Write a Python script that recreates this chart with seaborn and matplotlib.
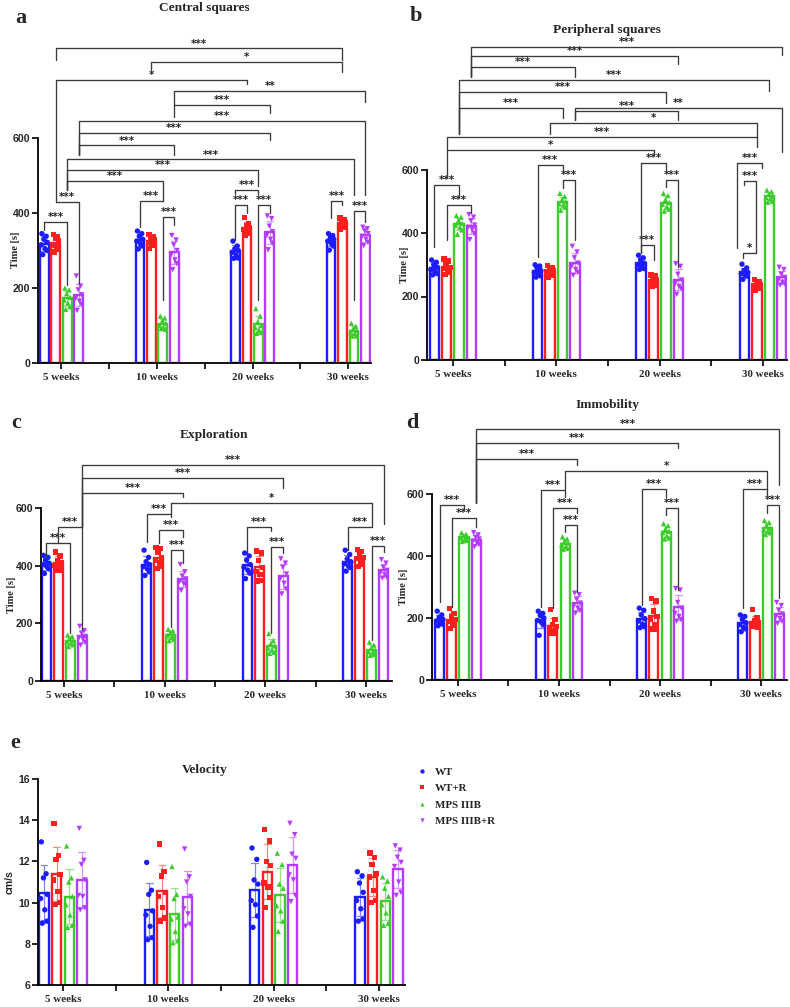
import numpy as np
import pandas as pd
import matplotlib
matplotlib.use("Agg")
from matplotlib import pyplot as plt
import seaborn as sns

weeks = ["5 weeks", "10 weeks", "20 weeks", "30 weeks"]
groups = ["WT", "WT+R", "MPS IIIB", "MPS IIIB+R"]
colors = ["#1c1cff", "#ff1f1f", "#3ccc2c", "#b43cff"]
markers = ["o", "s", "^", "v"]

# individual animals, one list per age (5, 10, 20, 30 weeks)
central_wt = [[345, 338, 330, 322, 315, 305, 300, 289], [352, 345, 338, 330, 325, 318, 312, 304],
              [325, 312, 305, 300, 295, 288, 280, 279], [345, 340, 335, 330, 325, 318, 312, 301]]
central_wtr = [[342, 338, 332, 325, 315, 310, 302, 296], [342, 338, 333, 328, 322, 318, 314, 305],
               [388, 372, 366, 362, 356, 350, 345, 341], [387, 382, 378, 374, 370, 366, 362, 357]]
central_mps = [[200, 195, 185, 175, 168, 160, 150, 143], [125, 120, 112, 106, 100, 95, 90, 92],
               [145, 125, 110, 100, 95, 88, 82, 79], [106, 98, 92, 87, 83, 78, 72, 72]]
central_mpsr = [[232, 205, 195, 182, 172, 165, 157, 140], [340, 328, 315, 300, 288, 275, 265, 249],
                [392, 385, 365, 350, 340, 330, 320, 302], [362, 358, 352, 345, 338, 330, 322, 313]]

periph_wt = [[315, 308, 300, 292, 285, 280, 272, 268], [300, 296, 290, 282, 276, 270, 265, 261],
             [330, 322, 315, 305, 300, 295, 288, 285], [302, 290, 282, 276, 272, 268, 264, 254]]
periph_wtr = [[318, 312, 302, 292, 288, 280, 275, 269], [298, 292, 288, 282, 278, 272, 268, 262],
              [268, 264, 258, 252, 248, 242, 236, 232], [253, 248, 242, 238, 234, 228, 225, 220]]
periph_mps = [[455, 450, 440, 430, 425, 418, 410, 396], [525, 515, 505, 498, 492, 488, 481, 472],
              [525, 518, 505, 496, 490, 482, 475, 469], [535, 530, 522, 516, 512, 508, 500, 497]]
periph_mpsr = [[458, 450, 438, 425, 418, 410, 398, 379], [358, 340, 322, 305, 295, 285, 276, 267],
               [303, 295, 270, 252, 240, 232, 225, 207], [292, 285, 270, 260, 252, 245, 240, 236]]

explor_wt = [[437, 430, 420, 410, 405, 398, 390, 374], [455, 430, 415, 405, 398, 390, 380, 367],
             [445, 435, 420, 405, 395, 385, 375, 356], [455, 440, 425, 415, 408, 400, 395, 382]]
explor_wtr = [[448, 435, 420, 410, 402, 395, 385, 385], [465, 460, 448, 430, 420, 410, 400, 391],
              [452, 445, 420, 395, 380, 370, 350, 348], [458, 450, 440, 430, 425, 418, 405, 398]]
explor_mps = [[160, 155, 148, 142, 137, 132, 126, 120], [180, 175, 168, 162, 158, 152, 145, 140],
              [165, 140, 130, 122, 115, 108, 100, 96], [135, 125, 115, 108, 102, 98, 92, 89]]
explor_mpsr = [[190, 175, 165, 155, 150, 145, 135, 125], [405, 380, 365, 355, 345, 340, 335, 315],
               [425, 410, 395, 372, 355, 340, 320, 303], [422, 410, 395, 385, 378, 370, 362, 358]]

immob_wt = [[222, 210, 202, 196, 190, 185, 180, 175], [222, 215, 208, 200, 192, 185, 178, 144],
            [232, 225, 210, 198, 190, 180, 172, 169], [210, 205, 195, 185, 178, 170, 165, 156]]
immob_wtr = [[230, 215, 205, 195, 188, 182, 178, 167], [228, 195, 180, 172, 165, 158, 152, 150],
             [262, 255, 222, 205, 195, 180, 165, 164], [228, 200, 192, 186, 180, 175, 170, 173]]
immob_mps = [[475, 470, 465, 462, 458, 453, 450, 447], [462, 455, 448, 442, 436, 430, 425, 422],
             [505, 498, 488, 480, 475, 465, 458, 455], [515, 508, 498, 490, 485, 480, 475, 469]]
immob_mpsr = [[475, 468, 460, 455, 448, 442, 438, 430], [280, 275, 260, 248, 240, 232, 225, 216],
              [295, 290, 250, 232, 215, 205, 195, 190], [250, 240, 225, 213, 205, 198, 190, 183]]

veloc_wt = [[12.95, 11.4, 11.2, 10.4, 10.2, 9.65, 9.1, 9.0], [11.95, 10.6, 10.4, 9.6, 9.4, 8.85, 8.3, 8.2],
            [12.65, 12.1, 11.1, 10.9, 10.1, 9.9, 9.35, 8.8], [11.5, 11.3, 10.95, 10.5, 10.1, 9.7, 9.2, 9.1]]
veloc_wtr = [[13.85, 12.3, 12.1, 11.35, 11.1, 10.55, 10.0, 9.9], [12.85, 11.5, 11.3, 10.5, 10.3, 9.75, 9.25, 9.1],
             [13.55, 13.0, 12.0, 11.8, 10.95, 10.75, 10.25, 9.75], [12.4, 12.2, 11.85, 11.4, 11.25, 10.6, 10.1, 10.0]]
veloc_mps = [[12.75, 11.2, 11.0, 10.3, 9.9, 9.4, 8.9, 8.8], [11.75, 10.4, 10.2, 9.3, 9.2, 8.6, 8.15, 8.05],
             [12.4, 11.85, 10.9, 10.7, 9.85, 9.6, 9.1, 8.6], [11.25, 11.05, 10.7, 10.3, 9.9, 9.5, 9.0, 8.9]]
veloc_mpsr = [[13.6, 12.05, 11.85, 11.1, 10.35, 10.3, 9.75, 9.65], [12.6, 11.25, 11.0, 10.3, 9.7, 9.45, 8.95, 8.85],
              [13.85, 13.3, 12.35, 12.15, 11.35, 11.1, 10.35, 10.05], [12.75, 12.55, 12.2, 11.95, 11.75, 11.0, 10.5, 10.35]]

# significance brackets: (week1, group1, week2, group2, line y, leg1 end, leg2 end, label)
brackets_a = [
    (0, 1, 3, 1, 839, 808, 808, "***"), (1, 1, 3, 1, 802, 781, 776, "*"),
    (0, 1, 2, 1, 754, 429, 744, "*"), (1, 3, 3, 3, 726, 688, 696, "**"),
    (1, 3, 2, 3, 688, 656, 667, "***"), (0, 3, 3, 3, 646, 555, 448, "***"),
    (0, 3, 2, 3, 614, 555, 595, "***"), (0, 3, 1, 3, 580, 555, 555, "***"),
    (0, 2, 3, 2, 543, 461, 448, "***"), (0, 2, 2, 2, 515, 461, 472, "***"),
    (0, 2, 1, 2, 485, 461, 433, "***"), (2, 0, 2, 2, 461, 451, 451, "***"),
    (0, 1, 0, 3, 429, 429, 213, "***"), (0, 0, 0, 2, 376, 355, 208, "***"),
    (1, 0, 1, 2, 433, 363, 433, "***"), (1, 2, 1, 3, 389, 168, 368, "***"),
    (2, 0, 2, 1, 421, 328, 400, "***"), (2, 2, 2, 3, 421, 168, 400, "***"),
    (3, 0, 3, 1, 433, 386, 421, "***"), (3, 2, 3, 3, 406, 168, 376, "***"),
]
brackets_b = [
    (0, 3, 3, 3, 987, 892, 961, "***"), (0, 3, 2, 3, 957, 892, 932, "***"),
    (0, 3, 1, 3, 924, 891, 891, "***"), (0, 2, 3, 2, 882, 712, 847, "***"),
    (0, 2, 2, 2, 845, 712, 809, "***"), (0, 2, 1, 2, 795, 712, 762, "***"),
    (1, 3, 3, 3, 793, 756, 655, "**"), (1, 3, 2, 3, 784, 756, 756, "***"),
    (1, 1, 3, 1, 748, 712, 702, "*"), (0, 1, 3, 1, 703, 661, 671, "***"),
    (0, 1, 2, 1, 661, 573, 646, "*"), (0, 0, 0, 2, 551, 356, 513, "***"),
    (0, 1, 0, 3, 488, 378, 463, "***"), (1, 0, 1, 2, 614, 324, 589, "***"),
    (1, 2, 1, 3, 567, 542, 378, "***"), (2, 0, 2, 2, 620, 337, 598, "***"),
    (2, 2, 2, 3, 567, 545, 293, "***"), (2, 0, 2, 1, 362, 337, 315, "***"),
    (3, -0.6, 3, 1.4, 620, 353, 605, "***"), (3, -0.05, 3, 0.95, 564, 551, 337, "***"),
    (3, -0.1, 3, 0.95, 337, 321, 337, "*"),
]
brackets_c = [
    (0, 3, 3, 3, 751, 536, 546, "***"), (0, 3, 2, 3, 706, 536, 671, "***"),
    (0, 3, 1, 3, 654, 536, 640, "***"), (1, 2, 3, 2, 619, 581, 536, "*"),
    (0, 1, 0, 3, 536, 480, 177, "***"), (0, 0, 0, 2, 480, 435, 167, "***"),
    (1, 0, 1, 2, 581, 483, 570, "***"), (1, 1, 1, 3, 525, 480, 501, "***"),
    (1, 2, 1, 3, 456, 188, 410, "***"), (2, 0, 2, 2, 536, 445, 522, "***"),
    (2, 2, 2, 3, 466, 167, 445, "***"), (3, 0, 3, 2, 536, 456, 536, "***"),
    (3, 2, 3, 3, 470, 143, 449, "***"),
]
brackets_d = [
    (0, 3, 3, 3, 810, 571, 629, "***"), (0, 3, 2, 3, 765, 571, 748, "***"),
    (0, 3, 1, 3, 713, 571, 694, "***"), (1, 2, 3, 2, 675, 616, 616, "*"),
    (0, 0, 0, 2, 564, 252, 548, "***"), (0, 1, 0, 3, 522, 236, 495, "***"),
    (1, 0, 1, 2, 613, 236, 591, "***"), (1, 1, 1, 3, 555, 232, 538, "***"),
    (1, 2, 1, 3, 500, 478, 284, "***"), (2, 0, 2, 2, 616, 242, 591, "***"),
    (2, 2, 2, 3, 555, 532, 290, "***"), (3, 0, 3, 2, 616, 232, 591, "***"),
    (3, 2, 3, 3, 564, 538, 263, "***"),
]

sns.set_style("ticks")
SERIF = "Liberation Serif"
SANS = "Liberation Sans"
plt.rcParams["font.family"] = [SERIF, "DejaVu Serif"]
plt.rcParams["axes.linewidth"] = 1.3
plt.rcParams["axes.edgecolor"] = "black"

W, H = 790, 1007
fig = plt.figure(figsize=(W / 100, H / 100), dpi=100)

slot = 0.12
jitter = [-0.28, 0.22, -0.06, 0.34, -0.36, 0.08, 0.30, -0.18]


def long_table(series):
    rows = []
    for h, (name, per_week) in enumerate(zip(groups, series)):
        for w, vals in enumerate(per_week):
            for j, v in enumerate(vals):
                x = w + (h - 1.5) * slot
                rows.append({"group": name, "xpos": round(x, 4),
                             "xjit": x + jitter[j] * slot * 0.75, "value": v})
    return pd.DataFrame(rows)


def px_axes(left, right, y0, top):
    return fig.add_axes([left / W, 1 - y0 / H, (right - left) / W, (y0 - top) / H])


def draw_panel(ax, series, ylim, yticks, xlim, brackets=(), legend=False):
    df = long_table(series)
    sns.barplot(data=df, x="xpos", y="value", hue="group", hue_order=groups,
                palette=colors, native_scale=True, dodge=False, errorbar=None,
                fill=False, width=0.75, linewidth=1.7, legend=False, ax=ax)
    sns.pointplot(data=df, x="xpos", y="value", hue="group", hue_order=groups,
                  palette=colors, native_scale=True, dodge=False, errorbar="sd",
                  capsize=0.55, marker="", linestyle="none",
                  err_kws={"linewidth": 0.9, "alpha": 0.55}, legend=False, ax=ax)
    sns.scatterplot(data=df, x="xjit", y="value", hue="group", style="group",
                    hue_order=groups, style_order=groups, palette=colors,
                    markers=dict(zip(groups, markers)), s=15, linewidth=0,
                    legend=legend, zorder=4, ax=ax)
    for w1, h1, w2, h2, y, l1, l2, lab in brackets:
        x1 = w1 + (h1 - 1.5) * slot
        x2 = w2 + (h2 - 1.5) * slot
        ax.plot([x1, x1, x2, x2], [l1, y, y, l2], color="#3a3a3a", lw=0.95,
                clip_on=False, zorder=5)
        ax.annotate(lab, xy=((x1 + x2) / 2, y), xytext=(0, 1.3), textcoords="offset points",
                    ha="center", va="baseline", fontsize=7.4, fontweight="bold",
                    family="DejaVu Sans", color="#222222")
    ax.set_xlim(*xlim)
    ax.set_ylim(*ylim)
    ax.set_xlabel("")
    ax.set_ylabel("")
    sns.despine(ax=ax)
    ax.spines["left"].set_bounds(yticks[0], yticks[-1])
    ax.set_yticks(yticks)
    ax.set_yticklabels([f"{t:g}" for t in yticks], family=SANS, fontweight="bold", fontsize=7.6)
    ax.set_xticks(range(4))
    ax.set_xticklabels(weeks, family=SERIF, fontweight="bold", fontsize=7.9)
    ax.set_xticks([0.5, 1.5, 2.5], minor=True)
    ax.tick_params(axis="x", which="both", length=4, width=1.2, pad=3, color="black")
    ax.tick_params(axis="y", length=4, width=1.2, pad=1.5, color="black")


def ftext(x, y, s, **kw):
    fig.text(x / W, 1 - y / H, s, **kw)


ax_a = px_axes(38, 371, 363, 40.5)
draw_panel(ax_a, [central_wt, central_wtr, central_mps, central_mpsr], (0, 860),
           [0, 200, 400, 600], (-0.246, 3.24), brackets_a)
ax_b = px_axes(427, 787, 360, 42.5)
draw_panel(ax_b, [periph_wt, periph_wtr, periph_mps, periph_mpsr], (0, 1000),
           [0, 200, 400, 600], (-0.25, 3.23), brackets_b)
ax_c = px_axes(41, 392, 681, 459.6)
draw_panel(ax_c, [explor_wt, explor_wtr, explor_mps, explor_mpsr], (0, 770),
           [0, 200, 400, 600], (-0.23, 3.26), brackets_c)
ax_d = px_axes(432, 787, 680, 422.7)
draw_panel(ax_d, [immob_wt, immob_wtr, immob_mps, immob_mpsr], (0, 830),
           [0, 200, 400, 600], (-0.257, 3.257), brackets_d)
ax_e = px_axes(38, 405, 985, 774.9)
draw_panel(ax_e, [veloc_wt, veloc_wtr, veloc_mps, veloc_mpsr], (6, 16.2),
           [6, 8, 10, 12, 14, 16], (-0.237, 3.247), legend=True)

old = ax_e.get_legend()
handles = old.legend_handles
labels = [t.get_text() for t in old.get_texts()]
old.remove()
fig.legend(handles, labels, loc="upper left", bbox_to_anchor=(417 / W, 1 - 767 / H),
           frameon=False, borderpad=0, borderaxespad=0, handlelength=1.0,
           handletextpad=0.6, labelspacing=0.62, markerscale=0.8,
           prop={"family": SERIF, "weight": "bold", "size": 7.9})

title_kw = dict(ha="center", va="center", family=SERIF, fontweight="bold", fontsize=9.6)
ftext(204, 8, "Central squares", **title_kw)
ftext(607, 30, "Peripheral squares", **title_kw)
ftext(214, 435, "Exploration", **title_kw)
ftext(607, 405, "Immobility", **title_kw)
ftext(205, 770, "Velocity", **title_kw)

letter_kw = dict(ha="center", va="center", family=SERIF, fontweight="bold", fontsize=16)
ftext(21, 18, "a", **letter_kw)
ftext(416, 16, "b", **letter_kw)
ftext(16, 423, "c", **letter_kw)
ftext(412, 423, "d", **letter_kw)
ftext(15, 743, "e", **letter_kw)

ylab_kw = dict(ha="center", va="center", rotation=90, fontweight="bold", fontsize=7.6)
ftext(15, 250, "Time [s]", family=SERIF, **ylab_kw)
ftext(405, 265, "Time [s]", family=SERIF, **ylab_kw)
ftext(12, 595, "Time [s]", family=SERIF, **ylab_kw)
ftext(404, 587, "Time [s]", family=SERIF, **ylab_kw)
ftext(10, 882, "cm/s", family=SANS, **ylab_kw)

fig.savefig("out.png", dpi=100, facecolor="white")
